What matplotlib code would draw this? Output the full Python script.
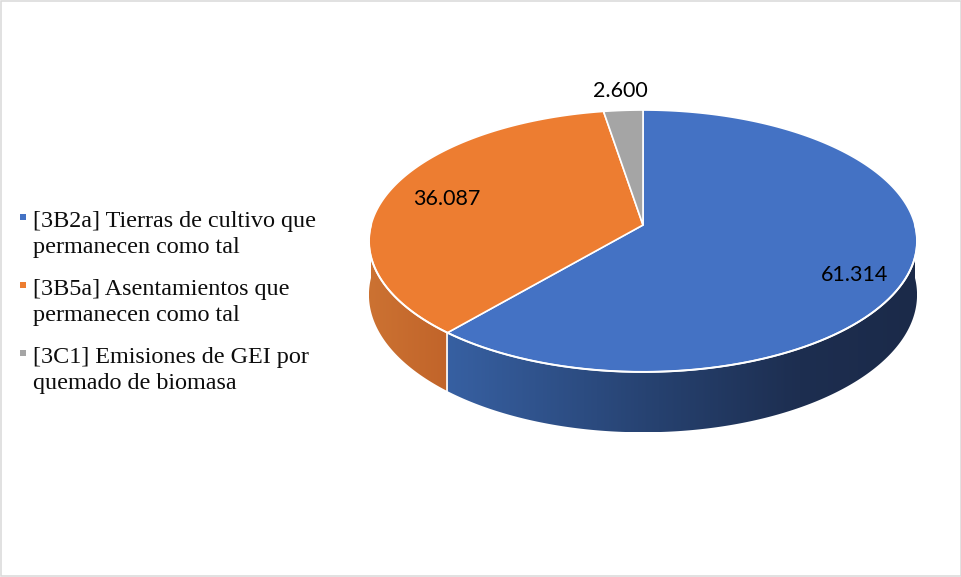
import numpy as np
import matplotlib
matplotlib.use("Agg")
import matplotlib.pyplot as plt
from matplotlib.patches import Polygon, Rectangle

# ---- data ----
categories = [
    "[3B2a] Tierras de cultivo que\npermanecen como tal",
    "[3B5a] Asentamientos que\npermanecen como tal",
    "[3C1] Emisiones de GEI por\nquemado de biomasa",
]
values = [61.314, 36.087, 2.600]
value_labels = ["61.314", "36.087", "2.600"]
top_colors = ["#4472C4", "#ED7D31", "#A5A5A5"]
# side-wall shading stops (fraction across the wall, colour)
wall_shades = [
    [(0.0, "#3760A2"), (0.45, "#26416F"), (0.75, "#1D2E50"), (1.0, "#1B2A49")],
    [(0.0, "#CC7232"), (1.0, "#C1642A")],
    [(0.0, "#8C8C8C"), (1.0, "#707070")],
]

# ---- layout of the 3-D disc (pixel space) ----
W, H = 962, 577
CX, CY = 643.0, 225.0      # projected centre of the disc
RX, RY = 272.0, 129.0      # disc radii on screen
PERSP = 0.122              # perspective strength
DEPTH = 53.0               # wall height
label_radius = [0.83, 0.77, 1.19]
label_turn = [6.0, 0.0, 0.0]

fig = plt.figure(figsize=(W / 100, H / 100), dpi=100)
ax = fig.add_axes([0, 0, 1, 1])
ax.set_xlim(0, W)
ax.set_ylim(H, 0)
ax.axis("off")


def project(theta_deg, r=1.0, z=0.0):
    t = np.radians(theta_deg)
    u = r * np.sin(t)
    v = r * np.cos(t)
    w = 1.0 / (1.0 + PERSP * v)
    return CX + RX * u * w, CY - RY * v * w + z * w


def hex2rgb(h):
    h = h.lstrip("#")
    return np.array([int(h[i:i + 2], 16) / 255 for i in (0, 2, 4)])


total = sum(values)
bounds = np.concatenate([[0], np.cumsum(values) / total * 360.0])

# ---- side walls (front half only: 90..270 degrees clockwise from top) ----
for i in range(len(values)):
    a, b = max(bounds[i], 90.0), min(bounds[i + 1], 270.0)
    if b <= a:
        continue
    th = np.linspace(a, b, 200)
    tx, ty = project(th)
    bx, by = project(th[::-1], z=DEPTH)
    pts = np.column_stack([np.concatenate([tx, bx]), np.concatenate([ty, by])])
    poly = Polygon(pts, closed=True, facecolor="none", edgecolor="none")
    ax.add_patch(poly)
    x0, x1 = pts[:, 0].min(), pts[:, 0].max()
    y0, y1 = pts[:, 1].min(), pts[:, 1].max()
    n = 300
    fr = np.linspace(0, 1, n)
    stops = wall_shades[i]
    sp = [s[0] for s in stops]
    cols = np.array([hex2rgb(s[1]) for s in stops])
    img = np.stack([np.interp(fr, sp, cols[:, c]) for c in range(3)], axis=-1)
    img = img[np.newaxis, :, :]
    im = ax.imshow(img, extent=[x0, x1, y1, y0], aspect="auto",
                   interpolation="bilinear", zorder=1)
    im.set_clip_path(poly)

# wall seams between slices
for bd in bounds[1:-1]:
    if 90.0 < bd < 270.0:
        x_t, y_t = project(bd)
        x_b, y_b = project(bd, z=DEPTH)
        ax.plot([x_t, x_b], [y_t, y_b], color="white", lw=1.2, zorder=2)

# ---- top face wedges ----
for i in range(len(values)):
    th = np.linspace(bounds[i], bounds[i + 1], 300)
    ex, ey = project(th)
    pts = np.column_stack([np.concatenate([[CX], ex]), np.concatenate([[CY], ey])])
    ax.add_patch(Polygon(pts, closed=True, facecolor=top_colors[i],
                         edgecolor="white", lw=1.2, joinstyle="miter", zorder=3))

# white rim between top face and the wall
th = np.linspace(90, 270, 400)
rx_, ry_ = project(th)
ax.plot(rx_, ry_, color="white", lw=1.4, zorder=4)

# ---- value labels ----
for i, lab in enumerate(value_labels):
    mid = 0.5 * (bounds[i] + bounds[i + 1]) + label_turn[i]
    lx, ly = project(mid, r=label_radius[i])
    ax.text(lx, ly, lab, ha="center", va="center", fontsize=15.5,
            family="Lato", color="black", zorder=5)

# ---- legend ----
leg_x_marker, leg_x_text = 23.0, 33.0
leg_y0, leg_step, line_step = 227.0, 68.0, 26.0
for i, cat in enumerate(categories):
    base = leg_y0 + i * leg_step
    ax.add_patch(Rectangle((leg_x_marker - 3.0, base - 13.5), 6, 6,
                           facecolor=top_colors[i], edgecolor="none", zorder=5))
    for j, line in enumerate(cat.split("\n")):
        ax.text(leg_x_text, base + j * line_step, line, ha="left", va="baseline",
                fontsize=17.4, family="Liberation Serif", color="#0D0D0D", zorder=5)

# chart frame
ax.add_patch(Rectangle((0.75, 0.75), W - 2.0, H - 2.0, facecolor="none",
                       edgecolor="#D9D9D9", lw=1.1, zorder=6))

fig.savefig("out.png", dpi=100, facecolor="white")
